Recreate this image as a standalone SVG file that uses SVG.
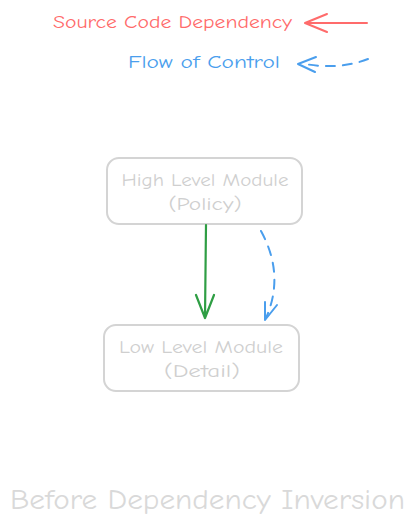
<svg xmlns="http://www.w3.org/2000/svg" width="417" height="529" viewBox="0 0 417 529">
<style>
text{font-family:"Comic Neue","Liberation Sans","DejaVu Sans",sans-serif;}
.box{fill:none;stroke:#d4d4d4;stroke-width:2;}
.lbl{fill:#cfcfcf;font-size:18px;text-anchor:middle;}
.title{fill:#d9d9d9;font-size:28px;}
.red{stroke:#ff6b6b;stroke-width:2;fill:none;stroke-linecap:round;}
.blue{stroke:#4a9eed;stroke-width:2;fill:none;stroke-linecap:round;}
.green{stroke:#2f9e44;stroke-width:2.2;fill:none;stroke-linecap:round;}
</style>
<rect width="417" height="529" fill="#ffffff"/>
<g id="legend">
<text x="53" y="28" font-size="19" fill="#ff6b6b" textLength="239" lengthAdjust="spacingAndGlyphs">Source Code Dependency</text>
<text x="128" y="68" font-size="19" fill="#4a9eed" textLength="152" lengthAdjust="spacingAndGlyphs">Flow of Control</text>
</g>
<g id="high-level">
<rect class="box" x="107" y="158" width="195" height="66" rx="12"/>
<text class="lbl" x="205" y="186" textLength="167" lengthAdjust="spacingAndGlyphs">High Level Module</text>
<text class="lbl" x="205" y="210" textLength="73" lengthAdjust="spacingAndGlyphs">(Policy)</text>
</g>
<g id="low-level">
<rect class="box" x="104" y="325" width="195" height="66" rx="12"/>
<text class="lbl" x="201" y="353" textLength="164" lengthAdjust="spacingAndGlyphs">Low Level Module</text>
<text class="lbl" x="202" y="377" textLength="76" lengthAdjust="spacingAndGlyphs">(Detail)</text>
</g>
<g id="connectors">
<path class="red" d="M367 23 L305 23 M305 23 L327 14 M305 23 L327 32"/>
<path class="blue" d="M368 59 Q340 70 305 64" stroke-dasharray="9 8"/>
<path class="blue" d="M298 64 L316 57 M298 64 L315 72"/>
<path class="green" d="M206 225 L205 318 M205 318 L196 295 M205 318 L214 295"/>
<path class="blue" d="M261 231 Q285 275 266 318" stroke-dasharray="9 8"/>
<path class="blue" d="M265 320 L265 302 M265 320 L277 305"/>
</g>
<g id="caption">
<text class="title" x="10" y="509" textLength="395" lengthAdjust="spacingAndGlyphs">Before Dependency Inversion</text>
</g>
</svg>
